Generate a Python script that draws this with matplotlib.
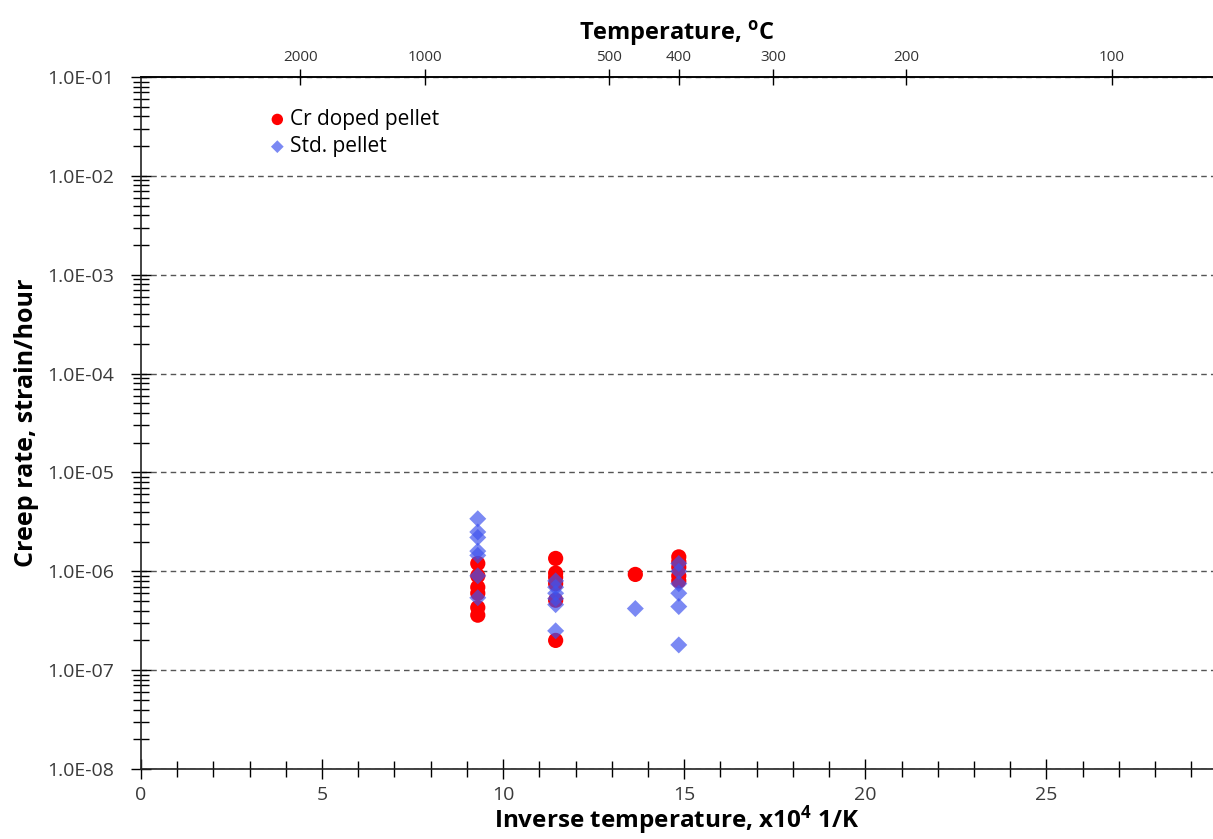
import numpy as np
import matplotlib.pyplot as plt
from matplotlib.ticker import LogLocator, FixedLocator, FuncFormatter, MultipleLocator, NullFormatter

plt.rcParams['font.family'] = ['Open Sans', 'DejaVu Sans']
plt.rcParams['mathtext.fontset'] = 'custom'
plt.rcParams['mathtext.rm'] = 'Open Sans'
plt.rcParams['mathtext.bf'] = 'Open Sans:bold'

# Inverse temperature (x10^4 1/K) and creep rate (strain/hour)
cr_x = [9.3] * 6 + [11.45] * 6 + [13.65] + [14.85] * 5
cr_y = [1.2e-6, 9.0e-7, 6.9e-7, 6.0e-7, 4.3e-7, 3.6e-7,
        1.35e-6, 9.6e-7, 8.7e-7, 7.5e-7, 5.1e-7, 2.0e-7,
        9.3e-7,
        1.4e-6, 1.25e-6, 1.1e-6, 9.0e-7, 8.0e-7]

std_x = [9.3] * 7 + [11.45] * 6 + [13.65] + [14.85] * 6
std_y = [3.4e-6, 2.5e-6, 2.2e-6, 1.6e-6, 1.45e-6, 9.0e-7, 5.4e-7,
         8.0e-7, 6.9e-7, 6.0e-7, 5.3e-7, 4.6e-7, 2.5e-7,
         4.2e-7,
         1.2e-6, 1.0e-6, 7.5e-7, 6.0e-7, 4.4e-7, 1.8e-7]

temp_ticks_c = [2000, 1000, 500, 400, 300, 200, 100]

fig = plt.figure(figsize=(12.13, 8.39), dpi=100)
ax = fig.add_axes([0.1162, 0.0834, 0.8838, 0.8248])

ax.scatter(cr_x, cr_y, s=120, marker='o', color='#ff0000', edgecolors='none',
           label='Cr doped pellet', zorder=3)
ax.scatter(std_x, std_y, s=75, marker='D', color='#3d52ee', alpha=0.68,
           edgecolors='none', label='Std. pellet', zorder=4)

ax.set_yscale('log')
ax.set_ylim(1e-8, 1e-1)
ax.set_xlim(0, 29.6)

ax.yaxis.set_major_locator(LogLocator(base=10, numticks=20))
ax.yaxis.set_minor_locator(LogLocator(base=10, subs=np.arange(2, 10), numticks=20))
ax.yaxis.set_major_formatter(FuncFormatter(lambda v, p: f'{v:.1E}'))
ax.yaxis.set_minor_formatter(NullFormatter())
ax.xaxis.set_major_locator(MultipleLocator(5))
ax.xaxis.set_minor_locator(MultipleLocator(1))

ax.tick_params(axis='both', which='major', direction='inout', length=14, width=1,
               labelsize=14, colors='black', labelcolor='#3a3a3a')
ax.tick_params(axis='both', which='minor', direction='inout', length=12, width=1)
ax.tick_params(axis='y', which='major', pad=12)
ax.tick_params(axis='x', which='major', pad=5)

ax.grid(True, axis='y', which='major', linestyle=(0, (4, 3)), color='#555555', linewidth=1)
ax.set_axisbelow(True)

ax.spines['right'].set_visible(False)
for side in ['left', 'bottom', 'top']:
    ax.spines[side].set_linewidth(1.2)
    ax.spines[side].set_color('#222222')

ax.set_xlabel(r'Inverse temperature, x10$\mathbf{^4}$ 1/K', fontsize=17.5,
              fontweight='bold', labelpad=0)
ax.set_ylabel('Creep rate, strain/hour', fontsize=18, fontweight='bold', labelpad=6)

# Temperature scale on top: x = 1e4 / (T + 273.15)
top = ax.twiny()
top.set_xlim(ax.get_xlim())
top.xaxis.set_major_locator(FixedLocator([1e4 / (t + 273.15) for t in temp_ticks_c]))
top.set_xticklabels([str(t) for t in temp_ticks_c])
top.tick_params(axis='x', direction='inout', length=12, width=1, labelsize=11, pad=3,
                labelcolor='#333333')
for side in ['left', 'right', 'bottom']:
    top.spines[side].set_visible(False)
top.spines['top'].set_linewidth(1.2)
top.set_xlabel(r'Temperature, $\mathbf{^o}$C', fontsize=17, fontweight='bold', labelpad=7)

ax.legend(loc='upper left', bbox_to_anchor=(0.10, 0.966), frameon=False, fontsize=15,
          handletextpad=-0.4, labelspacing=0.3, markerscale=0.75, borderaxespad=0)

fig.savefig('out.png', dpi=100)
